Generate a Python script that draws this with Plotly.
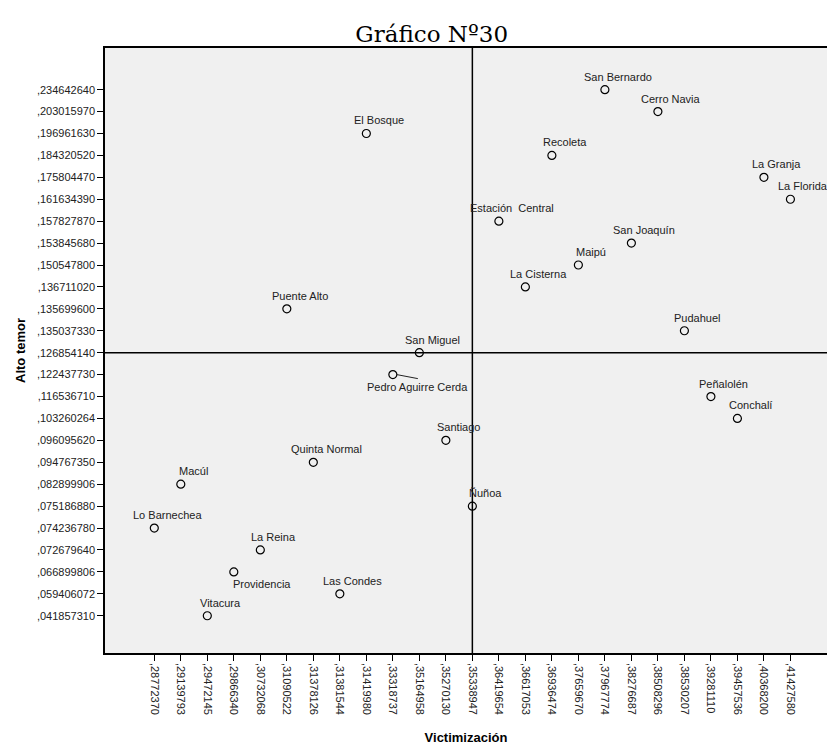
import plotly.graph_objects as go

# Comunas with their values (Victimización, Alto temor)
comunas = [
    "San Bernardo", "Cerro Navia", "El Bosque", "Recoleta", "La Granja",
    "La Florida", "Estación\u00a0 Central", "San Joaquín", "Maipú", "La Cisterna",
    "Puente Alto", "Pudahuel", "San Miguel", "Pedro Aguirre Cerda", "Peñalolén",
    "Conchalí", "Santiago", "Quinta Normal", "Macúl", "Ñuñoa",
    "Lo Barnechea", "La Reina", "Providencia", "Las Condes", "Vitacura",
]
victimizacion = [
    0.37967774, 0.38508296, 0.31419980, 0.36936474, 0.40368200,
    0.41427580, 0.36419654, 0.38276687, 0.37659670, 0.36617053,
    0.31090522, 0.38530207, 0.35164958, 0.33318737, 0.39281110,
    0.39457536, 0.35270130, 0.31378126, 0.29139793, 0.35338947,
    0.28772370, 0.30732068, 0.29866340, 0.31381544, 0.29472145,
]
alto_temor = [
    0.234642640, 0.203015970, 0.196961630, 0.184320520, 0.175804470,
    0.161634390, 0.157827870, 0.153845680, 0.150547800, 0.136711020,
    0.135699600, 0.135037330, 0.126854140, 0.122437730, 0.116536710,
    0.103260264, 0.096095620, 0.094767350, 0.082899906, 0.075186880,
    0.074236780, 0.072679640, 0.066899806, 0.059406072, 0.041857310,
]
ref_x = 0.35338947
ref_y = 0.126854140


def fmt_x(v):
    return f"{v:.8f}".replace("0.", ",", 1)


def fmt_y(v):
    return f"{v:.9f}".replace("0.", ",", 1)


x_lab = [fmt_x(v) for v in victimizacion]
y_lab = [fmt_y(v) for v in alto_temor]
x_order = [fmt_x(v) for v in sorted(victimizacion)]
y_order = [fmt_y(v) for v in sorted(alto_temor)]

fig = go.Figure()

fig.add_trace(go.Scatter(
    x=x_lab, y=y_lab,
    mode="markers",
    marker=dict(symbol="circle-open", size=8, color="black", line=dict(width=1.2, color="black")),
    cliponaxis=False,
    hovertext=comunas,
    showlegend=False,
))

# reference lines
fig.add_shape(type="line", xref="x", yref="paper", x0=fmt_x(ref_x), x1=fmt_x(ref_x), y0=0, y1=1,
              line=dict(color="black", width=1.5))
fig.add_shape(type="line", xref="paper", yref="y", x0=0, x1=1, y0=fmt_y(ref_y), y1=fmt_y(ref_y),
              line=dict(color="black", width=1.5))

label_font = dict(family="Arial, Liberation Sans, sans-serif", size=11, color="#222")
for name, xv, yv in zip(comunas, x_lab, y_lab):
    if name == "Pedro Aguirre Cerda":
        # small leader line from the point to its label
        fig.add_shape(type="line", xref="x", yref="y",
                      xsizemode="pixel", xanchor=xv, x0=4, x1=25,
                      ysizemode="pixel", yanchor=yv, y0=0, y1=-4,
                      line=dict(color="#222", width=1))
        fig.add_annotation(x=xv, y=yv, text=name, showarrow=False, xshift=25, yshift=-12,
                           font=label_font)
    elif name == "Providencia":
        fig.add_annotation(x=xv, y=yv, text=name, showarrow=False, xshift=28, yshift=-12,
                           font=label_font)
    else:
        fig.add_annotation(x=xv, y=yv, text=name, showarrow=False, xshift=13, yshift=13,
                           font=label_font)

axis_font = dict(family="Arial, Liberation Sans, sans-serif", size=11, color="#222")
fig.update_layout(
    width=827, height=745,
    margin=dict(l=105, r=0, t=48, b=92),
    paper_bgcolor="white",
    plot_bgcolor="#F0F0F0",
    title=dict(text="Gráfico Nº30", x=0.522, xref="container", xanchor="center",
               y=0.954, yref="container", yanchor="middle",
               font=dict(family="DejaVu Serif, Liberation Serif, serif", size=23, color="black")),
    xaxis=dict(
        type="category", categoryorder="array", categoryarray=x_order,
        range=[-1.86, 25.38], tickangle=90, tickfont=axis_font,
        ticks="outside", ticklen=6, tickcolor="black", automargin=False,
        showline=True, linecolor="black", linewidth=1.5, mirror=True,
        showgrid=False, zeroline=False,
        title=dict(text="<b>Victimización</b>", standoff=20,
                   font=dict(family="Arial, Liberation Sans, sans-serif", size=13, color="black")),
    ),
    yaxis=dict(
        type="category", categoryorder="array", categoryarray=y_order,
        range=[-1.70, 25.90], tickfont=axis_font,
        ticks="outside", ticklen=6, tickcolor="black", automargin=False,
        showline=True, linecolor="black", linewidth=1.5,
        showgrid=False, zeroline=False,
        title=dict(text="<b>Alto temor</b>", standoff=8,
                   font=dict(family="Arial, Liberation Sans, sans-serif", size=13, color="black")),
    ),
)

# drop the default page margin so the figure fills the window exactly
fig.write_html("out.html", config={"displayModeBar": False},
               post_script="document.body.style.margin='0';")
